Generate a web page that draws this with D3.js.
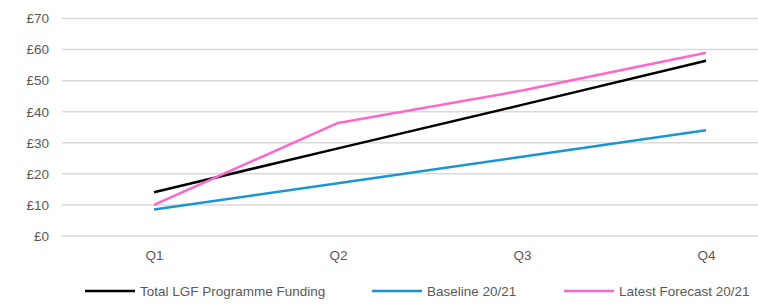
<!DOCTYPE html>
<html>
<head>
<meta charset="utf-8">
<script src="https://cdn.jsdelivr.net/npm/d3@7"></script>
<style>
  body { margin: 0; background: #fff; }
  text { font-family: "Liberation Sans", Arial, sans-serif; fill: #595959; }
</style>
</head>
<body>
<div class="chart"></div>
<script>
var quarters = ["Q1", "Q2", "Q3", "Q4"];
var totalFunding = [14.1, 28.2, 42.2, 56.4];
var baseline = [8.5, 17.0, 25.5, 34.0];
var latestForecast = [10.0, 36.4, 46.8, 59.0];
var yTicks = [0, 10, 20, 30, 40, 50, 60, 70];

var series = [
  {name: "Total LGF Programme Funding", values: totalFunding, color: "#000000"},
  {name: "Baseline 20/21", values: baseline, color: "#1b94d4"},
  {name: "Latest Forecast 20/21", values: latestForecast, color: "#ff66cc"}
];

var w = 758;
var h = 308;

var svg = d3.select(".chart")
            .append("svg")
            .attr("width", w)
            .attr("height", h);

// scales - plot area runs past the right edge (cropped like the original)
var xScale = d3.scalePoint()
    .domain(quarters)
    .range([62, 798])
    .padding(0.5);

var yScale = d3.scaleLinear()
    .domain([0, 70])
    .range([236, 18.5]);

// gridlines
svg.append("g")
   .selectAll("line")
   .data(yTicks)
   .enter()
   .append("line")
   .attr("x1", 62)
   .attr("x2", w)
   .attr("y1", (d) => yScale(d))
   .attr("y2", (d) => yScale(d))
   .attr("stroke", "#d9d9d9")
   .attr("stroke-width", 1.5);

// y axis labels
var yAxis = svg.append("g")
   .attr("transform", "translate(49,0)")
   .call(d3.axisLeft(yScale).tickValues(yTicks).tickSize(0).tickPadding(0).tickFormat((d) => "£" + d));
yAxis.select(".domain").remove();
yAxis.selectAll("text").attr("font-size", 13.5).attr("fill", "#595959").style("font-family", "'Liberation Sans', sans-serif");

// x axis labels
var xAxis = svg.append("g")
   .attr("transform", "translate(0,250)")
   .call(d3.axisBottom(xScale).tickSize(0).tickPadding(0));
xAxis.select(".domain").remove();
xAxis.selectAll("text").attr("font-size", 13.5).attr("fill", "#595959").style("font-family", "'Liberation Sans', sans-serif");

// lines
var line = d3.line()
   .x((d, i) => xScale(quarters[i]))
   .y((d) => yScale(d));

svg.selectAll(".series")
   .data(series)
   .enter()
   .append("path")
   .attr("class", "series")
   .attr("d", (d) => line(d.values))
   .attr("fill", "none")
   .attr("stroke", (d) => d.color)
   .attr("stroke-width", 2.5)
   .attr("stroke-linejoin", "round");

// legend
var legendX = [85, 372, 564];
var legend = svg.selectAll(".legend")
   .data(series)
   .enter()
   .append("g")
   .attr("class", "legend")
   .attr("transform", (d, i) => "translate(" + legendX[i] + ",291)");

legend.append("line")
   .attr("x1", 0)
   .attr("x2", 50)
   .attr("stroke", (d) => d.color)
   .attr("stroke-width", 2.5);

legend.append("text")
   .attr("x", 55)
   .attr("dy", "0.35em")
   .attr("font-size", 13.5)
   .text((d) => d.name);
</script>
</body>
</html>
